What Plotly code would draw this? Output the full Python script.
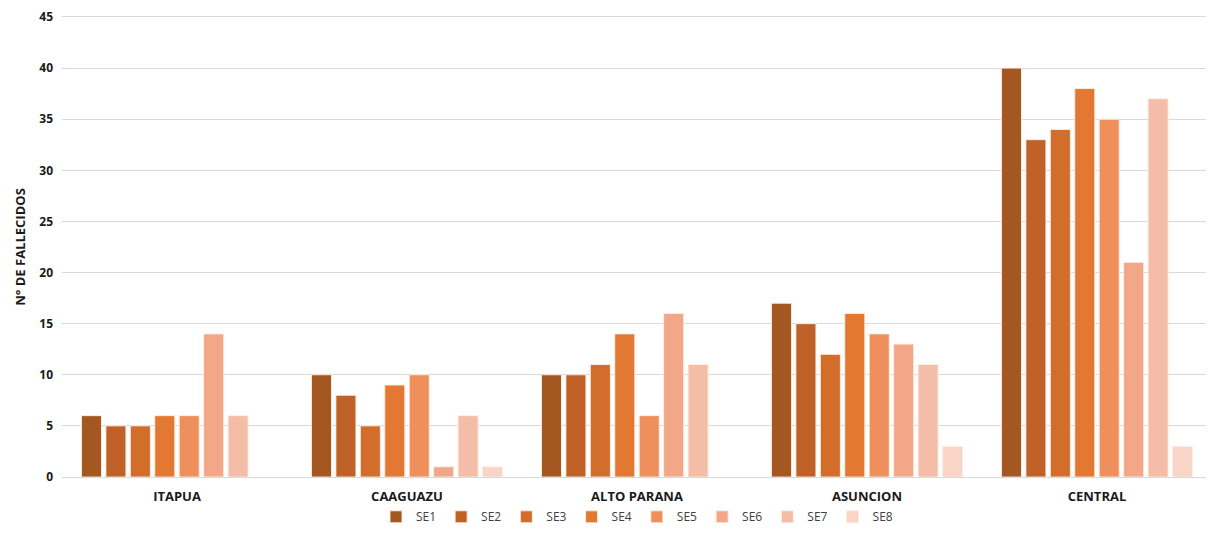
import plotly.graph_objects as go

categories = ["ITAPUA", "CAAGUAZU", "ALTO PARANA", "ASUNCION", "CENTRAL"]
series_names = ["SE1", "SE2", "SE3", "SE4", "SE5", "SE6", "SE7", "SE8"]
se1 = [6, 10, 10, 17, 40]
se2 = [5, 8, 10, 15, 33]
se3 = [5, 5, 11, 12, 34]
se4 = [6, 9, 14, 16, 38]
se5 = [6, 10, 6, 14, 35]
se6 = [14, 1, 16, 13, 21]
se7 = [6, 6, 11, 11, 37]
se8 = [None, 1, None, 3, 3]
series_values = [se1, se2, se3, se4, se5, se6, se7, se8]
colors = ["#A55722", "#C06228", "#D26D2B", "#E27831", "#EE8F5C", "#F1A788", "#F4BDA8", "#F8D5C7"]

fig = go.Figure()
for name, vals, col in zip(series_names, series_values, colors):
    fig.add_trace(go.Bar(
        x=categories, y=vals, name=name,
        marker=dict(color=col, line=dict(color="rgba(255,240,230,0.9)", width=1)),
    ))

fig.update_layout(
    barmode="group",
    bargap=0.15,
    bargroupgap=0.18,
    width=1206, height=525,
    margin=dict(l=54, r=2, t=9, b=56, autoexpand=False),
    plot_bgcolor="white",
    paper_bgcolor="white",
    font=dict(family="Open Sans, sans-serif", color="#1a1a1a"),
    legend=dict(
        orientation="h", x=0.5, xanchor="center", y=-0.055, yanchor="top",
        font=dict(size=12, color="#404040"),
        itemwidth=30, traceorder="normal",
    ),
    showlegend=True,
)
fig.update_yaxes(
    range=[0, 45], tick0=0, dtick=5, automargin=False,
    showgrid=True, gridcolor="#d9d9d9", gridwidth=1,
    zeroline=True, zerolinecolor="#d9d9d9", zerolinewidth=1,
    tickfont=dict(size=12, family="Open Sans, sans-serif", weight="bold"),
    ticklabelstandoff=8, ticklabeloverflow="allow",
    title=dict(text="<b>N° DE FALLECIDOS</b>", font=dict(size=13), standoff=10),
    ticks="", ticklen=0,
)
fig.update_xaxes(
    showline=True, linecolor="#d9d9d9", linewidth=1, mirror=True,
    ticks="", automargin=False,
    tickfont=dict(size=13, family="Open Sans, sans-serif", weight="bold"),
    ticklabelstandoff=7,
)

fig.write_html("out.html")
